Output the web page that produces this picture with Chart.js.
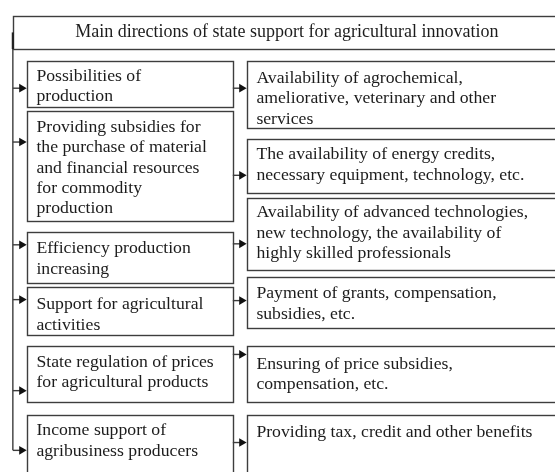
<!DOCTYPE html>
<html>
<head>
<meta charset="utf-8">
<script src="https://cdn.jsdelivr.net/npm/chart.js@4.4.0/dist/chart.umd.min.js"></script>
<style>
  html, body { margin: 0; padding: 0; background: #fff; }
</style>
</head>
<body>
<canvas id="scheme" width="555" height="472"></canvas>
<script>
// ---- content ----
const title = "Main directions of state support for agricultural innovation";

const directions = [
  ["Possibilities of", "production"],
  ["Providing subsidies for", "the purchase of material", "and financial resources", "for commodity", "production"],
  ["Efficiency production", "increasing"],
  ["Support for agricultural", "activities"],
  ["State regulation of prices", "for agricultural products"],
  ["Income support of", "agribusiness producers"]
];

const measures = [
  ["Availability of agrochemical,", "ameliorative, veterinary and other", "services"],
  ["The availability of energy credits,", "necessary equipment, technology, etc."],
  ["Availability of advanced technologies,", "new technology, the availability of", "highly skilled professionals"],
  ["Payment of grants, compensation,", "subsidies, etc."],
  ["Ensuring of price subsidies,", "compensation, etc."],
  ["Providing tax, credit and other benefits"]
];

// ---- layout (scale units, y goes down) ----
const titleBox = { x0: 8, x1: 570, y0: 11, y1: 45 };
const leftCol = { x0: 22, x1: 232, textX: 32 };
const rightCol = { x0: 246, x1: 570, textX: 256 };
const leftRows = [[57, 104], [108, 221], [232, 284], [288, 337], [348, 406], [419, 490]];
const rightRows = [[57, 126], [137, 192], [197, 271], [278, 330], [348, 406], [419, 490]];
const leftTextY = [73, 125, 249, 306, 365, 435];
const rightTextY = [75, 153, 212, 295, 367, 437];
const feedY = [85, 140, 245, 301, 394, 455];   // trunk -> direction
const linkY = [85, 174, 244, 302, 357, 447];   // direction -> measure
const trunkX = 8;
const lineH = 20.8;
const headR = 5;

const INK = "#1c1c1c";
const EDGE = "#3d3d3d";
const FONT = "17.7px 'Liberation Serif', 'Times New Roman', serif";
const TITLE_FONT = "18px 'Liberation Serif', 'Times New Roman', serif";

function arrow(x0, x1, y) {
  return {
    data: [{ x: x0, y: y }, { x: x1 - headR, y: y }],
    showLine: true,
    borderColor: EDGE,
    borderWidth: 1.4,
    pointStyle: "triangle",
    pointRotation: 90,
    pointRadius: [0, headR],
    pointBorderWidth: 0,
    pointBackgroundColor: "#111"
  };
}

const datasets = [];
datasets.push({
  data: [{ x: trunkX, y: titleBox.y1 }, { x: trunkX, y: feedY[feedY.length - 1] }],
  showLine: true, borderColor: EDGE, borderWidth: 1.4, pointRadius: 0
});
feedY.forEach(y => datasets.push(arrow(trunkX, leftCol.x0, y)));
linkY.forEach(y => datasets.push(arrow(leftCol.x1, rightCol.x0, y)));

// boxes + text drawn through the chart scales
const boxesPlugin = {
  id: "boxes",
  beforeDatasetsDraw(chart) {
    const { ctx, scales: { x, y } } = chart;
    const rect = (x0, x1, y0, y1) => {
      const px0 = Math.round(x.getPixelForValue(x0)) + 0.5;
      const px1 = Math.round(x.getPixelForValue(x1)) + 0.5;
      const py0 = Math.round(y.getPixelForValue(y0)) + 0.5;
      const py1 = Math.round(y.getPixelForValue(y1)) + 0.5;
      ctx.strokeRect(px0, py0, px1 - px0, py1 - py0);
    };
    ctx.save();
    ctx.strokeStyle = EDGE;
    ctx.lineWidth = 1.4;
    rect(titleBox.x0, titleBox.x1, titleBox.y0, titleBox.y1);
    leftRows.forEach(r => rect(leftCol.x0, leftCol.x1, r[0], r[1]));
    rightRows.forEach(r => rect(rightCol.x0, rightCol.x1, r[0], r[1]));

    // darker stub on the title box's left edge
    ctx.lineWidth = 2.2;
    ctx.strokeStyle = "#222";
    ctx.beginPath();
    ctx.moveTo(x.getPixelForValue(titleBox.x0), y.getPixelForValue(28));
    ctx.lineTo(x.getPixelForValue(titleBox.x0), y.getPixelForValue(titleBox.y1));
    ctx.stroke();

    ctx.fillStyle = INK;
    ctx.font = TITLE_FONT;
    ctx.textBaseline = "middle";
    ctx.textAlign = "center";
    ctx.fillText(title, x.getPixelForValue(287), y.getPixelForValue(28));
    ctx.font = FONT;
    ctx.textAlign = "left";
    directions.forEach((lines, i) => {
      lines.forEach((t, j) => {
        ctx.fillText(t, x.getPixelForValue(leftCol.textX), y.getPixelForValue(leftTextY[i] + j * lineH));
      });
    });
    measures.forEach((lines, i) => {
      lines.forEach((t, j) => {
        ctx.fillText(t, x.getPixelForValue(rightCol.textX), y.getPixelForValue(rightTextY[i] + j * lineH));
      });
    });
    ctx.restore();
  }
};

new Chart(document.getElementById("scheme"), {
  type: "scatter",
  data: { datasets },
  options: {
    responsive: false,
    animation: false,
    layout: { padding: 0 },
    plugins: { legend: { display: false }, tooltip: { enabled: false } },
    scales: {
      x: { type: "linear", min: 0, max: 555, display: false },
      y: { type: "linear", min: 0, max: 472, reverse: true, display: false }
    }
  },
  plugins: [boxesPlugin]
});
</script>
</body>
</html>
